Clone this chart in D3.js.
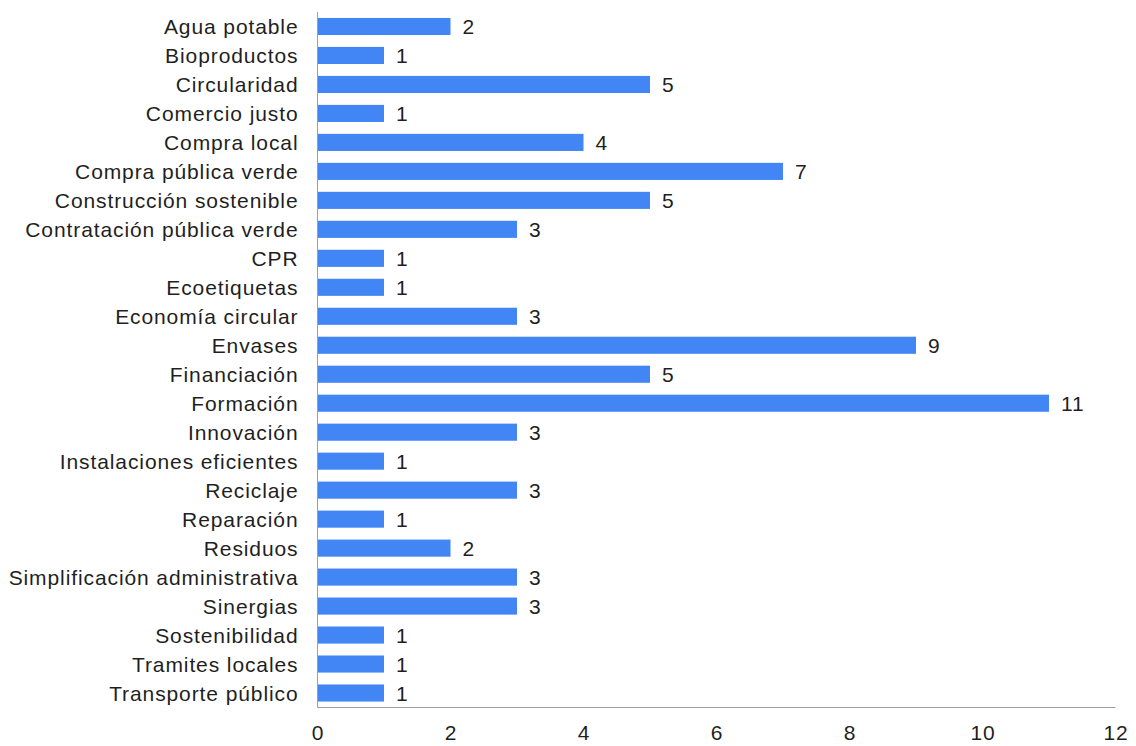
<!DOCTYPE html>
<html><head><meta charset="utf-8">
<script src="https://cdn.jsdelivr.net/npm/d3@7"></script>
<style>body{margin:0;background:#fff}</style>
</head><body>
<svg id="c" width="1136" height="746"></svg>
<script>
const categories = ["Agua potable","Bioproductos","Circularidad","Comercio justo","Compra local","Compra pública verde","Construcción sostenible","Contratación pública verde","CPR","Ecoetiquetas","Economía circular","Envases","Financiación","Formación","Innovación","Instalaciones eficientes","Reciclaje","Reparación","Residuos","Simplificación administrativa","Sinergias","Sostenibilidad","Tramites locales","Transporte público"];
const values = [2,1,5,1,4,7,5,3,1,1,3,9,5,11,3,1,3,1,2,3,3,1,1,1];
const xTicks = [0,2,4,6,8,10,12];

const svg = d3.select("#c");
const m = {left:317.5, right:1115.5, top:12, bottom:707.5};
const x = d3.scaleLinear().domain([0,12]).range([m.left, m.right]);
const y = d3.scaleBand().domain(categories).range([m.top, m.bottom]).paddingInner(0.41).paddingOuter(0.205);
const font = "Liberation Sans, Arial, sans-serif";
const fs = 21, ls = "0.9px";

svg.append("g").selectAll("rect").data(values).join("rect")
  .attr("x", x(0)).attr("y", (d,i)=>y(categories[i]))
  .attr("width", d=>x(d)-x(0)).attr("height", y.bandwidth())
  .attr("fill", "#4285f4");

svg.append("g").selectAll("text").data(values).join("text")
  .attr("x", d=>x(d)+12).attr("y", (d,i)=>y(categories[i])+y.bandwidth()/2)
  .attr("dy","0.36em").attr("font-family",font).attr("font-size",fs).attr("letter-spacing",ls).attr("fill","#1f1f1f")
  .text(d=>d);

const yAxis = svg.append("g").attr("transform",`translate(${m.left},0)`)
  .call(d3.axisLeft(y).tickSize(0).tickPadding(19));
yAxis.select(".domain").attr("stroke","#9e9e9e").attr("d",`M0,${m.top}V${m.bottom}`);
yAxis.selectAll("text").attr("font-family",font).attr("font-size",fs).attr("letter-spacing",ls).attr("fill","#1f1f1f").attr("dy","0.36em");

const xAxis = svg.append("g").attr("transform",`translate(0,${m.bottom})`)
  .call(d3.axisBottom(x).tickValues(xTicks).tickSize(0).tickPadding(18));
xAxis.select(".domain").attr("stroke","#9e9e9e").attr("d",`M${m.left},0H${m.right}`);
xAxis.selectAll("text").attr("font-family",font).attr("font-size",fs).attr("letter-spacing",ls).attr("fill","#1f1f1f");
</script>
</body></html>
